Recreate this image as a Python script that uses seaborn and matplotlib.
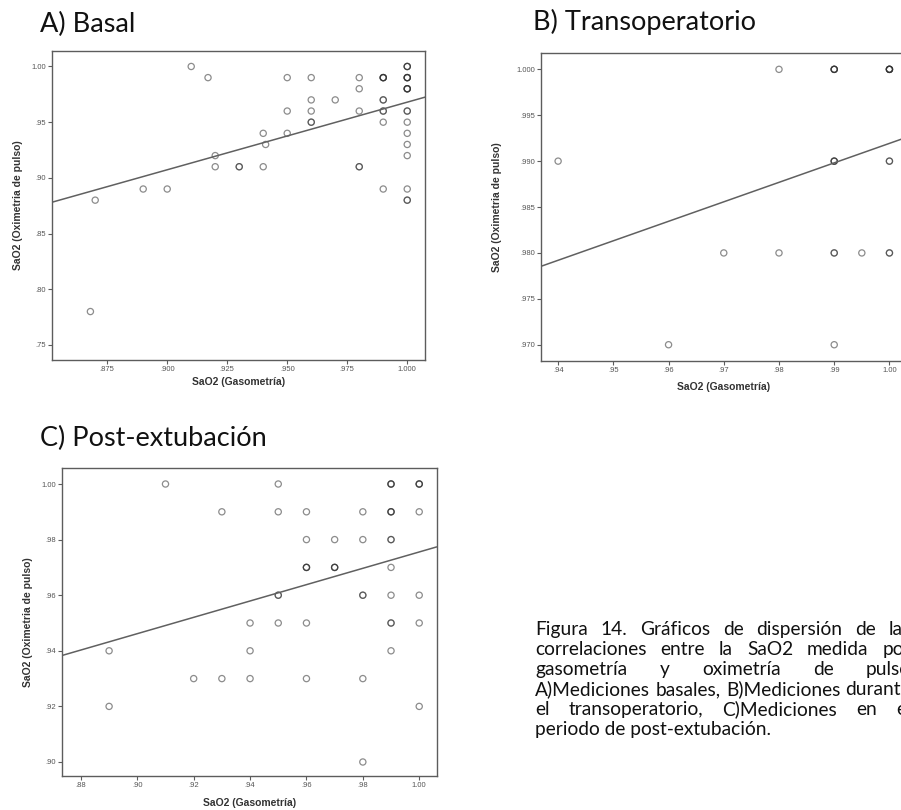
import numpy as np
import pandas as pd
import matplotlib
matplotlib.use("Agg")
import matplotlib.pyplot as plt
from matplotlib.ticker import FuncFormatter, FixedLocator
import seaborn as sns

sns.set_theme(style="white")
plt.rcParams["font.family"] = ["Liberation Sans", "DejaVu Sans"]

# ---- A) Basal: SaO2 by blood gas (x) vs. pulse oximetry (y) ----
basal_gaso = ([.868, .870, .89, .90, .91, .917, .92, .92, .93, .93, .94, .94, .941]
              + [.95] * 3 + [.96] * 5 + [.97] + [.98] * 5 + [.99] * 10 + [1.00] * 20)
basal_oxi = ([.78, .88, .89, .89, 1.00, .99, .92, .91, .91, .91, .91, .94, .93]
             + [.99, .96, .94]
             + [.99, .97, .96, .95, .95]
             + [.97]
             + [.99, .98, .96, .91, .91]
             + [.99, .99, .99, .99, .97, .97, .96, .96, .95, .89]
             + [1.00, 1.00, 1.00, .99, .99, .99, .99, .98, .98, .98, .98,
                .96, .96, .95, .94, .93, .92, .89, .88, .88])

# ---- B) Transoperatorio ----
trans_gaso = [.94, .96, .97, .98, .98] + [.99] * 10 + [.995] + [1.00] * 9
trans_oxi = ([.990, .970, .980, 1.000, .980]
             + [1.000, 1.000, 1.000, 1.000, .990, .990, .990, .980, .980, .970]
             + [.980]
             + [1.000, 1.000, 1.000, 1.000, 1.000, .990, .990, .980, .980])

# ---- C) Post-extubación ----
post_gaso = ([.89, .89, .91, .92, .93, .93, .94, .94, .94]
             + [.95] * 5 + [.96] * 7 + [.97] * 4 + [.98] * 6 + [.99] * 13 + [1.00] * 7)
post_oxi = ([.94, .92, 1.00, .93, .99, .93, .93, .94, .95]
            + [1.00, .99, .96, .96, .95]
            + [.99, .98, .97, .97, .97, .95, .93]
            + [.98, .97, .97, .97]
            + [.99, .98, .96, .96, .93, .90]
            + [1.00, 1.00, 1.00, .99, .99, .99, .98, .98, .97, .96, .95, .95, .94]
            + [1.00, 1.00, 1.00, .99, .96, .95, .92])

# axis ticks
basal_xticks = [.875, .900, .925, .950, .975, 1.000]
basal_yticks = [.75, .80, .85, .90, .95, 1.00]
trans_xticks = [.94, .95, .96, .97, .98, .99, 1.00]
trans_yticks = [.970, .975, .980, .985, .990, .995, 1.000]
post_xticks = [.88, .90, .92, .94, .96, .98, 1.00]
post_yticks = [.90, .92, .94, .96, .98, 1.00]

xlabel = "SaO2 (Gasometría)"
ylabel = "SaO2 (Oximetria de pulso)"

caption_lines = [
    "Figura 14. Gráficos de dispersión de las",
    "correlaciones entre la SaO2 medida por",
    "gasometría y oximetría de pulso",
    "A)Mediciones basales, B)Mediciones durante",
    "el transoperatorio, C)Mediciones en el",
    "periodo de post-extubación.",
]

W, H = 901, 810
fig = plt.figure(figsize=(W / 100, H / 100), dpi=100)
fig.patch.set_facecolor("white")

EDGE = "#5c5c5c"


def spss_fmt(decimals):
    def f(v, pos):
        s = f"{v:.{decimals}f}"
        return s[1:] if s.startswith("0") else s
    return FuncFormatter(f)


def px_rect(left, top, right, bottom):
    return [left / W, 1 - bottom / H, (right - left) / W, (bottom - top) / H]


def panel(rect, gx, oy, xlim, ylim, xticks, yticks, xdec, ydec, ylab_x, xlab_y):
    ax = fig.add_axes(rect)
    ax.set_xlim(xlim)
    ax.set_ylim(ylim)
    df = pd.DataFrame({"gaso": gx, "oxi": oy})
    sns.regplot(data=df, x="gaso", y="oxi", ax=ax, ci=None, truncate=False,
                color="#2e2e2e",
                scatter_kws=dict(s=20, facecolors="none", linewidths=0.9, alpha=0.55),
                line_kws=dict(color="#606060", lw=1.1))
    ax.set_xlim(xlim)
    ax.set_ylim(ylim)
    ax.xaxis.set_major_locator(FixedLocator(xticks))
    ax.yaxis.set_major_locator(FixedLocator(yticks))
    ax.xaxis.set_major_formatter(spss_fmt(xdec))
    ax.yaxis.set_major_formatter(spss_fmt(ydec))
    ax.tick_params(axis="both", which="major", bottom=True, left=True, direction="out",
                   length=3, width=0.8, color=EDGE, labelsize=5.5, labelcolor="#555555", pad=1.5)
    for sp in ax.spines.values():
        sp.set_visible(True)
        sp.set_color(EDGE)
        sp.set_linewidth(1.0)
    ax.grid(False)
    ax.set_xlabel(xlabel, fontsize=7.5, fontweight="bold", color="#333333")
    ax.set_ylabel(ylabel, fontsize=7.5, fontweight="bold", color="#333333")
    ax.xaxis.label.set_verticalalignment("center")
    ax.yaxis.label.set_verticalalignment("center")
    ax.xaxis.set_label_coords(0.5, xlab_y)
    ax.yaxis.set_label_coords(ylab_x, 0.5)
    return ax


panel(px_rect(52, 51, 425, 360), basal_gaso, basal_oxi, (.852, 1.0074), (.7365, 1.0139),
      basal_xticks, basal_yticks, 3, 2, (18 - 52) / 373, (360 - 382) / 309)
panel(px_rect(541, 53, 906, 360.7), trans_gaso, trans_oxi, (.9369, 1.0030), (.96826, 1.00178),
      trans_xticks, trans_yticks, 2, 3, (497 - 541) / 365, (360.7 - 387) / 307.7)
panel(px_rect(62.3, 468.3, 436.7, 775.7), post_gaso, post_oxi, (.8734, 1.0062), (.89507, 1.00565),
      post_xticks, post_yticks, 2, 2, (28 - 62.3) / 374.4, (775.7 - 803) / 307.4)

title_font = ["Lato", "DejaVu Sans"]
title_kw = dict(fontsize=19.5, family=title_font, va="baseline", color="#111111")
fig.text(40 / W, 1 - 32 / H, "A) Basal", **title_kw)
fig.text(533 / W, 1 - 30 / H, "B) Transoperatorio", **title_kw)
fig.text(40 / W, 1 - 446 / H, "C) Post-extubación", **title_kw)

# justified caption block (the page margin lies past the right edge of the figure)
renderer = fig.canvas.get_renderer()
cap_left, cap_right = 535, 911
first_base, step = 635, 20
cap_kw = dict(fontsize=13.8, family=title_font, va="baseline", color="#111111")
for i, line in enumerate(caption_lines):
    yb = 1 - (first_base + i * step) / H
    if i == len(caption_lines) - 1:
        fig.text(cap_left / W, yb, line, **cap_kw)
        continue
    words = line.split()
    texts = [fig.text(0, yb, w, **cap_kw) for w in words]
    widths = [t.get_window_extent(renderer).width for t in texts]
    gap = (cap_right - cap_left - sum(widths)) / (len(words) - 1)
    x = cap_left
    for t, w in zip(texts, widths):
        t.set_x(x / W)
        x += w + gap

fig.savefig("out.png", dpi=100, facecolor="white")
